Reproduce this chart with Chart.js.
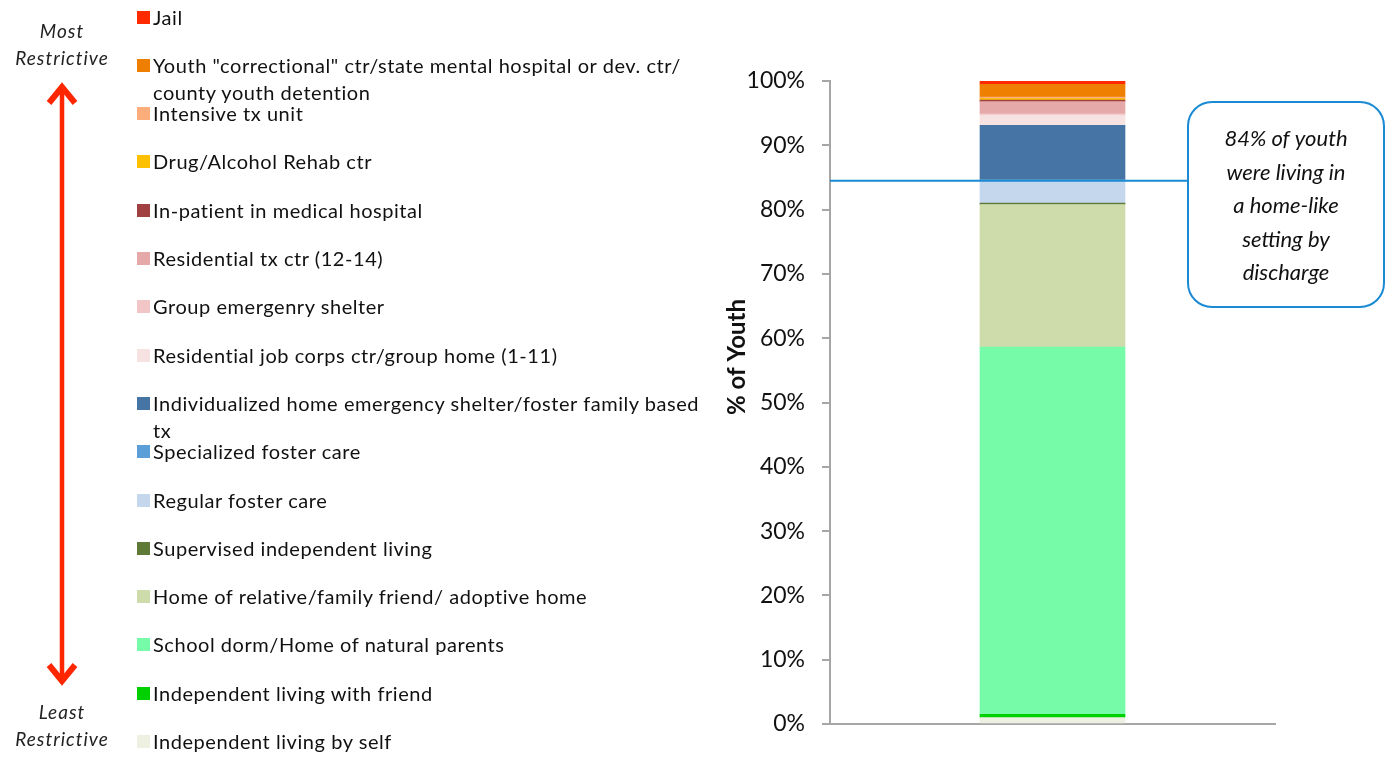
<!DOCTYPE html>
<html>
<head>
<meta charset="utf-8">
<script src="https://cdn.jsdelivr.net/npm/chart.js@4.4.0/dist/chart.umd.min.js"></script>
<style>
  html, body { margin: 0; padding: 0; background: #fff; }
  body { width: 1392px; height: 757px; position: relative; overflow: hidden; font-family: Lato, "Open Sans", sans-serif; }
  #chart { position: absolute; left: 0; top: 0; }
  .item { position: absolute; left: 137px; font-size: 20px; letter-spacing: 0.55px; line-height: 27px; color: #111; white-space: nowrap; }
  .item .sw { position: absolute; left: 0; top: 7px; width: 13px; height: 13px; }
  .item .tx { margin-left: 16px; }
  .side { position: absolute; width: 124px; left: 0; text-align: center; font-style: italic; font-size: 19px; letter-spacing: 1px; line-height: 27px; color: #222; }
  #arrow { position: absolute; left: 40px; top: 80px; }
</style>
</head>
<body>
<canvas id="chart" width="1392" height="757"></canvas>
<div class="side" style="top:17px">Most<br>Restrictive</div>
<svg id="arrow" width="44" height="608">
  <line x1="22" y1="12" x2="22" y2="596" stroke="#ff2600" stroke-width="4.5"/>
  <polyline points="9,23 22,7 35,23" fill="none" stroke="#ff2600" stroke-width="6"/>
  <polyline points="9,585 22,601 35,585" fill="none" stroke="#ff2600" stroke-width="6"/>
</svg>
<div class="side" style="top:698px">Least<br>Restrictive</div>
<div id="legend"></div>
<script>
// placements listed from the bottom of the stack (least restrictive) upwards
const categories = ['Discharge'];
const placements = [
  'Independent living by self',
  'Independent living with friend',
  'School dorm/Home of natural parents',
  'Home of relative/family friend/ adoptive home',
  'Supervised independent living',
  'Regular foster care',
  'Specialized foster care',
  ['Individualized home emergency shelter/foster family based', 'tx'],
  'Residential job corps ctr/group home (1-11)',
  'Group emergenry shelter',
  'Residential tx ctr (12-14)',
  'In-patient in medical hospital',
  'Drug/Alcohol Rehab ctr',
  'Intensive tx unit',
  ['Youth "correctional" ctr/state mental hospital or dev. ctr/', 'county youth detention'],
  'Jail'
];
const shares = [1.0, 0.5, 57.1, 22.2, 0.2, 3.6, 0, 8.5, 1.6, 0.2, 1.9, 0.25, 0.2, 0.25, 2.0, 0.5];
const colors = [
  '#eef0e2', '#00d000', '#76fca8', '#cddcaa', '#5e7a36', '#c5d7ec', '#5c9fd8', '#4674a4',
  '#f6e3e1', '#f2c6c6', '#e4a9a8', '#a04040', '#ffc000', '#fbae7c', '#ee7f00', '#ff2a00'
];
const yTicks = [0, 10, 20, 30, 40, 50, 60, 70, 80, 90, 100];
const homeLikeShare = 84.5;
const calloutLines = ['84% of youth', 'were living in', 'a home-like', 'setting by', 'discharge'];

// legend, most restrictive first
const legend = document.getElementById('legend');
placements.slice().reverse().forEach((name, i) => {
  const idx = placements.length - 1 - i;
  const lines = Array.isArray(name) ? name : [name];
  const el = document.createElement('div');
  el.className = 'item';
  el.style.top = (3.5 + 48.3 * i) + 'px';
  el.innerHTML = '<span class="sw" style="background:' + colors[idx] + '"></span><div class="tx">' +
    lines.map(l => l.replace(/</g, '&lt;')).join('<br>') + '</div>';
  legend.appendChild(el);
});

const axisTitle = {
  id: 'axisTitle',
  afterDraw(chart) {
    const ctx = chart.ctx;
    ctx.save();
    ctx.translate(737, 357);
    ctx.rotate(-Math.PI / 2);
    ctx.font = 'bold 24px Lato';
    ctx.fillStyle = '#111';
    ctx.textAlign = 'center';
    ctx.textBaseline = 'middle';
    ctx.fillText('% of Youth', 0, 0);
    ctx.restore();
  }
};

const callout = {
  id: 'callout',
  afterDraw(chart) {
    const ctx = chart.ctx;
    const y = chart.scales.y.getPixelForValue(homeLikeShare);
    ctx.save();
    ctx.strokeStyle = '#1a8ad4';
    ctx.lineWidth = 2;
    ctx.beginPath();
    ctx.moveTo(chart.chartArea.left, y);
    ctx.lineTo(1188, y);
    ctx.stroke();
    ctx.beginPath();
    ctx.roundRect(1188, 102, 196, 205, 24);
    ctx.fillStyle = '#fff';
    ctx.fill();
    ctx.stroke();
    ctx.fillStyle = '#111';
    ctx.font = 'italic 22px Lato';
    ctx.textAlign = 'center';
    ctx.textBaseline = 'middle';
    calloutLines.forEach((t, i) => ctx.fillText(t, 1286, 139 + 33.5 * i));
    ctx.restore();
  }
};

new Chart(document.getElementById('chart'), {
  type: 'bar',
  data: {
    labels: categories,
    datasets: placements.map((name, i) => ({
      label: Array.isArray(name) ? name.join(' ') : name,
      data: [shares[i]],
      backgroundColor: colors[i],
      borderWidth: 0,
      barThickness: 145
    }))
  },
  options: {
    responsive: false,
    animation: false,
    layout: { padding: { left: 722, right: 117, top: 81, bottom: 33 } },
    plugins: { legend: { display: false }, tooltip: { enabled: false } },
    scales: {
      x: {
        stacked: true,
        ticks: { display: false },
        grid: { display: false, drawTicks: false },
        border: { display: true, color: '#a6a6a6', width: 2 },
        afterFit(s) { s.height = 0; }
      },
      y: {
        stacked: true,
        min: 0,
        max: 100,
        afterBuildTicks(s) { s.ticks = yTicks.map(v => ({ value: v })); },
        ticks: { callback: v => v + '%', color: '#111', font: { family: 'Lato', size: 23 }, padding: 17 },
        grid: { drawOnChartArea: false, drawTicks: true, tickLength: 8, color: '#a6a6a6', lineWidth: 2 },
        border: { color: '#a6a6a6', width: 2 },
        afterFit(s) { s.width = 108; }
      }
    }
  },
  plugins: [axisTitle, callout]
});
</script>
</body>
</html>
